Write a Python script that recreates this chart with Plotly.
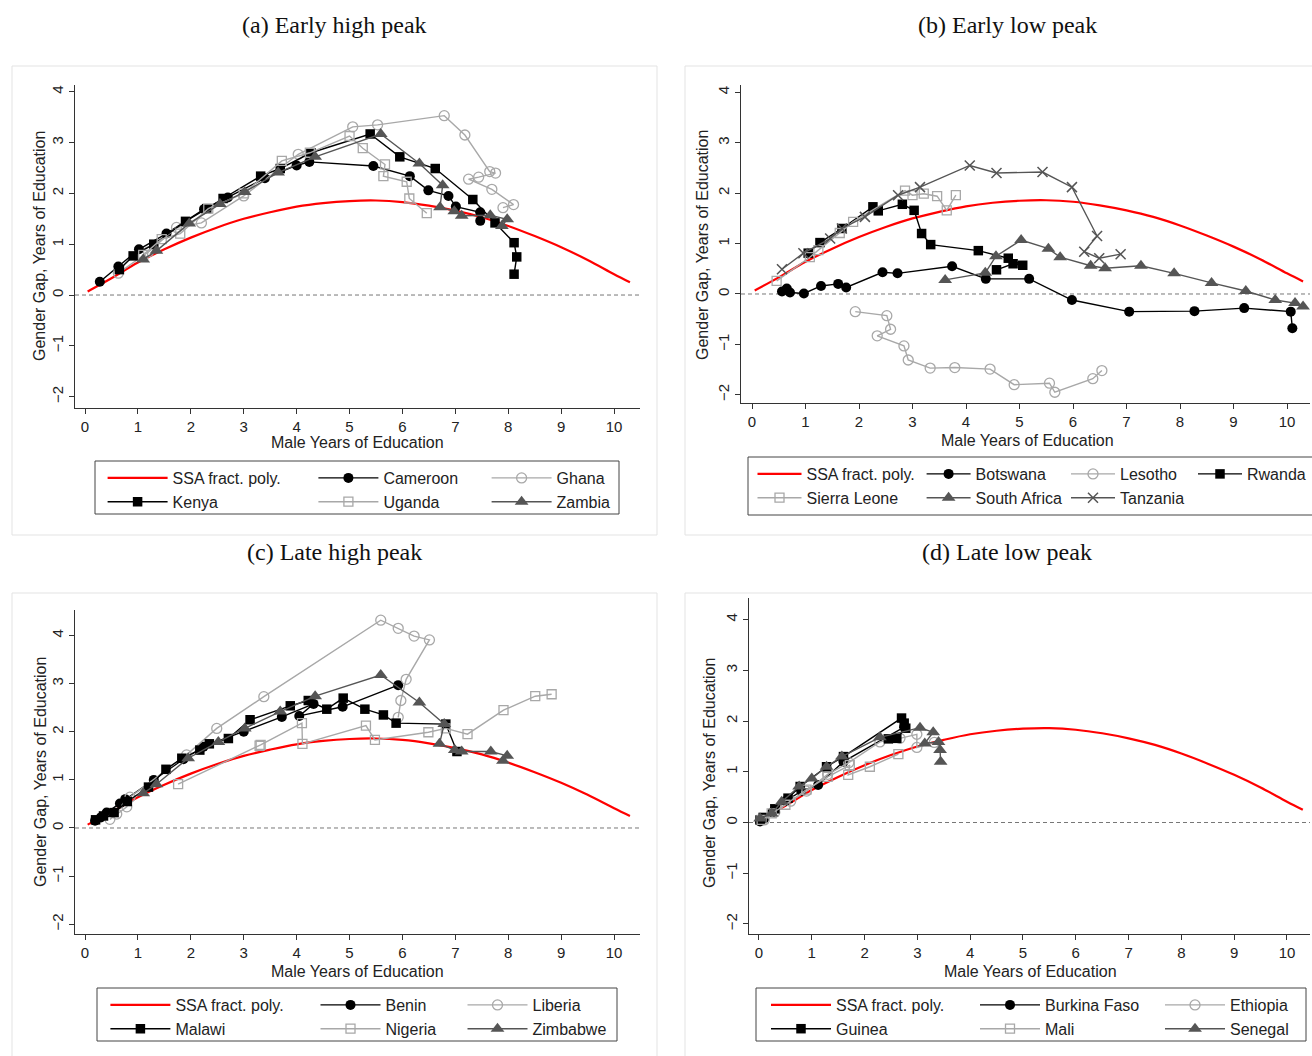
import plotly.graph_objects as go

W, H = 1312, 1056

# ---------------- data ----------------
# SSA fractional-polynomial fit, sampled points
ssa_x = [0.05, 0.5, 1, 1.5, 2, 2.5, 3, 3.5, 4, 4.5, 5, 5.5, 6, 6.5, 7, 7.5, 8, 8.5, 9, 9.5, 10, 10.3]
ssa_y = [0.07, 0.33, 0.64, 0.90, 1.13, 1.33, 1.50, 1.63, 1.74, 1.81, 1.85, 1.86, 1.83, 1.76, 1.66, 1.53, 1.36, 1.16, 0.94, 0.69, 0.41, 0.25]

# (a) Early high peak
cameroon_x = [0.28, 0.63, 1.02, 1.54, 2.25, 2.7, 3.4, 4.0, 4.24, 5.45, 6.14, 6.49, 6.87, 7.01, 7.47, 7.47]
cameroon_y = [0.26, 0.56, 0.90, 1.21, 1.69, 1.92, 2.30, 2.55, 2.62, 2.54, 2.34, 2.06, 1.95, 1.74, 1.63, 1.46]
ghana_x = [0.63, 1.2, 1.73, 2.2, 3.0, 4.03, 5.06, 5.53, 6.79, 7.18, 7.65, 7.76, 7.44, 7.25, 7.69, 8.1, 7.9]
ghana_y = [0.43, 0.85, 1.33, 1.42, 1.95, 2.77, 3.31, 3.35, 3.53, 3.15, 2.43, 2.40, 2.32, 2.28, 2.08, 1.78, 1.72]
kenya_x = [0.65, 0.91, 1.3, 1.9, 2.3, 2.61, 3.32, 3.69, 4.27, 5.39, 5.95, 6.62, 7.33, 7.75, 8.11, 8.16, 8.11]
kenya_y = [0.50, 0.77, 1.00, 1.45, 1.70, 1.90, 2.34, 2.49, 2.80, 3.17, 2.72, 2.49, 1.88, 1.42, 1.03, 0.75, 0.41]
uganda_x = [1.1, 1.45, 1.8, 2.33, 3.0, 3.72, 4.25, 5.0, 5.25, 5.67, 5.64, 6.08, 6.13, 6.46]
uganda_y = [0.79, 1.10, 1.21, 1.70, 2.00, 2.64, 2.80, 3.13, 2.89, 2.57, 2.34, 2.23, 1.90, 1.61]
zambia_x = [1.1, 1.35, 1.97, 2.55, 3.02, 3.65, 4.35, 5.59, 6.32, 6.76, 6.71, 6.98, 7.12, 7.66, 7.98, 7.88]
zambia_y = [0.70, 0.87, 1.41, 1.79, 2.03, 2.41, 2.72, 3.17, 2.59, 2.16, 1.73, 1.65, 1.56, 1.57, 1.49, 1.36]

# (b) Early low peak
botswana_x = [0.56, 0.65, 0.71, 0.97, 1.29, 1.61, 1.76, 2.44, 2.72, 3.74, 4.37, 5.18, 5.98, 7.05, 8.27, 9.2, 10.07, 10.1]
botswana_y = [0.05, 0.11, 0.03, 0.01, 0.16, 0.20, 0.13, 0.43, 0.41, 0.55, 0.30, 0.30, -0.12, -0.35, -0.34, -0.28, -0.35, -0.68]
lesotho_x = [1.93, 2.52, 2.59, 2.34, 2.84, 2.92, 3.33, 3.79, 4.45, 4.9, 5.56, 5.66, 6.37, 6.54]
lesotho_y = [-0.35, -0.43, -0.70, -0.83, -1.03, -1.31, -1.47, -1.46, -1.49, -1.80, -1.77, -1.95, -1.68, -1.52]
rwanda_x = [1.05, 1.27, 1.68, 2.26, 2.36, 2.81, 3.03, 3.17, 3.34, 4.23, 4.79, 5.06, 4.88, 4.57]
rwanda_y = [0.81, 1.02, 1.30, 1.73, 1.65, 1.78, 1.66, 1.20, 0.98, 0.86, 0.71, 0.57, 0.60, 0.48]
sierra_x = [0.46, 1.08, 1.24, 1.64, 1.89, 2.86, 3.0, 3.21, 3.46, 3.64, 3.81]
sierra_y = [0.26, 0.73, 0.87, 1.21, 1.43, 2.05, 1.96, 1.99, 1.94, 1.66, 1.96]
safrica_x = [3.61, 4.36, 4.56, 5.03, 5.54, 5.76, 6.33, 6.6, 7.27, 7.89, 8.59, 9.23, 9.78, 10.15, 10.3]
safrica_y = [0.28, 0.42, 0.75, 1.07, 0.90, 0.73, 0.56, 0.51, 0.56, 0.41, 0.22, 0.06, -0.12, -0.18, -0.25]
tanzania_x = [0.56, 0.96, 1.46, 1.68, 2.11, 2.73, 3.14, 4.07, 4.57, 5.43, 5.98, 6.45, 6.21, 6.49, 6.89]
tanzania_y = [0.49, 0.81, 1.10, 1.30, 1.53, 1.96, 2.12, 2.55, 2.40, 2.42, 2.12, 1.15, 0.84, 0.71, 0.79]

# (c) Late high peak
benin_x = [0.19, 0.3, 0.41, 0.66, 0.76, 1.3, 1.86, 2.24, 3.0, 3.72, 4.32, 4.05, 4.87, 5.92]
benin_y = [0.15, 0.22, 0.32, 0.51, 0.60, 1.00, 1.43, 1.69, 2.00, 2.31, 2.58, 2.33, 2.52, 2.97]
liberia_x = [0.47, 0.6, 0.79, 0.85, 1.92, 2.49, 3.38, 5.59, 5.92, 6.22, 6.51, 6.07, 5.97, 5.92]
liberia_y = [0.18, 0.29, 0.44, 0.64, 1.52, 2.07, 2.73, 4.32, 4.15, 3.99, 3.91, 3.09, 2.65, 2.30]
malawi_x = [0.2, 0.35, 0.55, 0.8, 1.2, 1.53, 1.83, 2.17, 2.35, 2.71, 3.12, 3.88, 4.22, 4.57, 4.88, 5.29, 5.64, 5.88, 6.82, 7.03]
malawi_y = [0.17, 0.25, 0.32, 0.55, 0.85, 1.22, 1.45, 1.62, 1.75, 1.86, 2.25, 2.54, 2.65, 2.47, 2.70, 2.47, 2.35, 2.18, 2.16, 1.59]
nigeria_x = [1.76, 3.3, 3.32, 4.1, 4.11, 5.31, 5.48, 6.49, 6.82, 7.23, 7.91, 8.51, 8.82]
nigeria_y = [0.91, 1.71, 1.73, 2.18, 1.75, 2.13, 1.83, 1.99, 2.07, 1.95, 2.45, 2.74, 2.78]
zimbabwe_x = [1.1, 1.35, 1.95, 2.52, 3.02, 3.69, 4.35, 5.59, 6.32, 6.79, 6.7, 6.99, 7.12, 7.67, 7.98, 7.9]
zimbabwe_y = [0.72, 0.91, 1.45, 1.79, 2.07, 2.42, 2.74, 3.18, 2.61, 2.16, 1.75, 1.62, 1.59, 1.59, 1.50, 1.40]

# (d) Late low peak
burkina_x = [0.02, 0.1, 0.25, 0.5, 0.8, 1.12, 1.6, 2.75]
burkina_y = [0.02, 0.08, 0.20, 0.42, 0.62, 0.74, 1.20, 1.88]
ethiopia_x = [0.1, 0.3, 0.6, 0.9, 1.3, 1.7, 2.29, 2.67, 2.99, 2.99, 3.32]
ethiopia_y = [0.05, 0.20, 0.42, 0.62, 0.95, 1.18, 1.59, 1.66, 1.74, 1.48, 1.58]
guinea_x = [0.02, 0.08, 0.3, 0.55, 0.78, 1.28, 1.6, 2.7, 2.75, 2.78, 2.61, 2.45]
guinea_y = [0.05, 0.10, 0.27, 0.48, 0.71, 1.10, 1.30, 2.06, 1.96, 1.86, 1.66, 1.65]
mali_x = [0.05, 0.24, 0.5, 0.9, 1.3, 1.72, 1.69, 2.1, 2.64]
mali_y = [0.05, 0.18, 0.35, 0.65, 0.90, 1.13, 0.94, 1.10, 1.35]
senegal_x = [0.02, 0.24, 0.43, 0.76, 1.0, 1.28, 1.57, 2.29, 3.05, 3.3, 3.14, 3.4, 3.43, 3.44]
senegal_y = [0.08, 0.18, 0.41, 0.71, 0.87, 1.10, 1.30, 1.68, 1.87, 1.78, 1.56, 1.59, 1.43, 1.20]

x_ticks = [0, 1, 2, 3, 4, 5, 6, 7, 8, 9, 10]
y_ticks = [-2, -1, 0, 1, 2, 3, 4]

# ---------------- styling ----------------
BLACK = '#000000'
LGREY = '#a8a8a8'
DGREY = '#555555'
RED = '#ff0000'
SANS = 'Liberation Sans, Arial, sans-serif'
SERIF = 'Liberation Serif, Times New Roman, serif'

STY = [
    dict(color=BLACK, symbol='circle', size=10, lw=0),
    dict(color=LGREY, symbol='circle-open', size=10, lw=1.3),
    dict(color=BLACK, symbol='square', size=9.5, lw=0),
    dict(color=LGREY, symbol='square-open', size=9, lw=1.3),
    dict(color=DGREY, symbol='triangle-up', size=12, lw=0),
    dict(color=DGREY, symbol='x-thin-open', size=10, lw=1.5),
]


def fx(p):
    return p / W


def fy(p):
    return 1 - p / H


panels = [
    dict(title='(a) Early high peak', tpos=(334, 25),
         box=(75, 85, 640, 408), xr=[-0.189, 10.49], yr=[-2.224, 4.134],
         xt=(357, 443), yt=(40, 246), border=(12, 66, 657, 535),
         legbox=(95, 461, 619, 514), iw=60,
         cols=[172.6, 383.4, 556.6], rows=[477, 500],
         series=[('Cameroon', cameroon_x, cameroon_y), ('Ghana', ghana_x, ghana_y),
                 ('Kenya', kenya_x, kenya_y), ('Uganda', uganda_x, uganda_y),
                 ('Zambia', zambia_x, zambia_y)]),
    dict(title='(b) Early low peak', tpos=(1007, 25),
         box=(741, 85, 1310, 403), xr=[-0.206, 10.43], yr=[-2.163, 4.147],
         xt=(1027, 440), yt=(703, 245), border=(685, 66, 1330, 535),
         legbox=(748, 457, 1330, 515), iw=44,
         cols=[806.5, 975.6, 1120, 1247], rows=[473, 500],
         series=[('Botswana', botswana_x, botswana_y), ('Lesotho', lesotho_x, lesotho_y),
                 ('Rwanda', rwanda_x, rwanda_y), ('Sierra Leone', sierra_x, sierra_y),
                 ('South Africa', safrica_x, safrica_y), ('Tanzania', tanzania_x, tanzania_y)]),
    dict(title='(c) Late high peak', tpos=(334, 552),
         box=(75, 610, 640, 934), xr=[-0.189, 10.49], yr=[-2.204, 4.532],
         xt=(357, 971), yt=(40, 772), border=(12, 593, 657, 1070),
         legbox=(97, 988, 617, 1041), iw=60,
         cols=[175.4, 385.5, 532.5], rows=[1004, 1028],
         series=[('Benin', benin_x, benin_y), ('Liberia', liberia_x, liberia_y),
                 ('Malawi', malawi_x, malawi_y), ('Nigeria', nigeria_x, nigeria_y),
                 ('Zimbabwe', zimbabwe_x, zimbabwe_y)]),
    dict(title='(d) Late low peak', tpos=(1007, 552),
         box=(749, 598, 1310, 934), xr=[-0.189, 10.436], yr=[-2.199, 4.428],
         xt=(1030, 971), yt=(709, 773), border=(685, 593, 1330, 1070),
         legbox=(756, 988, 1306, 1041), iw=60,
         cols=[836, 1045, 1230], rows=[1004, 1028],
         series=[('Burkina Faso', burkina_x, burkina_y), ('Ethiopia', ethiopia_x, ethiopia_y),
                 ('Guinea', guinea_x, guinea_y), ('Mali', mali_x, mali_y),
                 ('Senegal', senegal_x, senegal_y)]),
]

fig = go.Figure()
layout = dict(width=W, height=H, margin=dict(l=0, r=0, t=0, b=0),
              paper_bgcolor='white', plot_bgcolor='white',
              font=dict(family=SANS, size=15, color='#222'))
shapes = []
annotations = []
legend_count = 0

for pi, p in enumerate(panels):
    n = pi + 1
    xa = 'x' if n == 1 else f'x{n}'
    ya = 'y' if n == 1 else f'y{n}'
    x0, y0, x1, y1 = p['box']
    axis_common = dict(showgrid=False, zeroline=False, showline=True, linecolor='#333',
                       linewidth=1, ticks='outside', ticklen=5, tickcolor='#333',
                       tickfont=dict(family=SANS, size=15, color='#222'))
    layout[f'xaxis{"" if n == 1 else n}'] = dict(
        domain=[fx(x0), fx(x1)], range=p['xr'], anchor=ya,
        tickmode='array', tickvals=x_ticks, **axis_common)
    layout[f'yaxis{"" if n == 1 else n}'] = dict(
        domain=[fy(y1), fy(y0)], range=p['yr'], anchor=xa,
        tickmode='array', tickvals=y_ticks, tickangle=-90, **axis_common)

    # legend column layout (row-major like Stata)
    ncol = len(p['cols'])
    names = ['SSA fract. poly.'] + [s[0] for s in p['series']]
    col_of = {}
    row_of = {}
    for k, nm in enumerate(names):
        col_of[nm] = k % ncol
        row_of[nm] = k // ncol
    leg_ids = []
    for c in range(ncol):
        legend_count += 1
        lid = 'legend' if legend_count == 1 else f'legend{legend_count}'
        leg_ids.append(lid)
        layout[lid] = dict(x=fx(p['cols'][c] - p['iw'] - 10), y=fy(p['rows'][0] - 16),
                           xanchor='left', yanchor='top', orientation='v',
                           bgcolor='rgba(0,0,0,0)', borderwidth=0,
                           itemwidth=p['iw'], itemclick=False,
                           font=dict(family=SANS, size=16, color='#222'),
                           tracegroupgap=0)

    # SSA curve
    fig.add_trace(go.Scatter(x=ssa_x, y=ssa_y, mode='lines', name='SSA fract. poly.',
                             line=dict(color=RED, width=2.2, shape='spline'),
                             xaxis=xa, yaxis=ya, legend=leg_ids[col_of['SSA fract. poly.']],
                             legendrank=row_of['SSA fract. poly.']))
    for si, (nm, xs, ys) in enumerate(p['series']):
        st = STY[si]
        fig.add_trace(go.Scatter(
            x=xs, y=ys, mode='lines+markers', name=nm,
            line=dict(color=st['color'], width=1.4),
            marker=dict(color=st['color'], symbol=st['symbol'], size=st['size'],
                        line=dict(color=st['color'], width=st['lw'])),
            xaxis=xa, yaxis=ya, legend=leg_ids[col_of[nm]], legendrank=row_of[nm]))

    # dashed zero line
    shapes.append(dict(type='line', xref=f'{xa} domain', yref=ya, x0=0, x1=1, y0=0, y1=0,
                       line=dict(color='#777', width=1, dash='4px,3px'), layer='below'))
    # panel border
    bx0, by0, bx1, by1 = p['border']
    shapes.append(dict(type='rect', xref='paper', yref='paper', x0=fx(bx0), x1=fx(bx1),
                       y0=fy(by1), y1=fy(by0), line=dict(color='#e3e3e3', width=1),
                       layer='below'))
    # legend box
    lx0, ly0, lx1, ly1 = p['legbox']
    shapes.append(dict(type='rect', xref='paper', yref='paper', x0=fx(lx0), x1=fx(lx1),
                       y0=fy(ly1), y1=fy(ly0), line=dict(color='#444', width=1),
                       layer='below'))
    # titles
    annotations.append(dict(text=p['title'], xref='paper', yref='paper',
                            x=fx(p['tpos'][0]), y=fy(p['tpos'][1]), showarrow=False,
                            xanchor='center', yanchor='middle',
                            font=dict(family=SERIF, size=24, color='#111')))
    annotations.append(dict(text='Male Years of Education', xref='paper', yref='paper',
                            x=fx(p['xt'][0]), y=fy(p['xt'][1]), showarrow=False,
                            xanchor='center', yanchor='middle',
                            font=dict(family=SANS, size=16, color='#222')))
    annotations.append(dict(text='Gender Gap, Years of Education', xref='paper', yref='paper',
                            x=fx(p['yt'][0]), y=fy(p['yt'][1]), showarrow=False,
                            xanchor='center', yanchor='middle', textangle=-90,
                            font=dict(family=SANS, size=16, color='#222')))

layout['shapes'] = shapes
layout['annotations'] = annotations
fig.update_layout(**layout)
fig.write_html('out.html', config={'displayModeBar': False},
               post_script="document.body.style.margin='0';document.body.style.overflow='hidden';")
